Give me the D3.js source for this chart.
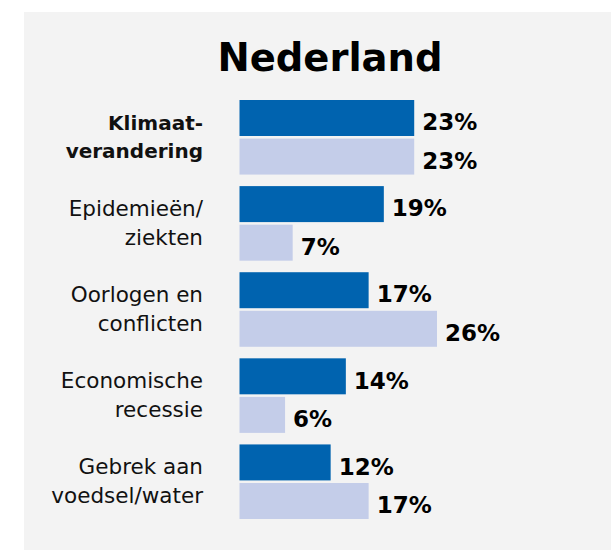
<!DOCTYPE html>
<meta charset="utf-8">
<script src="https://d3js.org/d3.v7.min.js"></script>
<style>
    body { margin: 0; background: #fff; }
    svg { display: block; }
</style>
<body>
</body>
<script>
    // Chart data
    var title = "Nederland";
    var categories = ["Klimaatverandering", "Epidemieën", "Oorlogen", "Economische recessie", "Gebrek aan voedsel/water"];
    // two-line labels shown left of each group
    var labelLines = [
        ["Klimaat-", "verandering"],
        ["Epidemieën/", "ziekten"],
        ["Oorlogen en", "conflicten"],
        ["Economische", "recessie"],
        ["Gebrek aan", "voedsel/water"]
    ];
    var highlighted = ["Klimaatverandering"];
    var seriesNames = ["first", "second"];
    var firstValues = [23, 19, 17, 14, 12];
    var secondValues = [23, 7, 26, 6, 17];
    var seriesColors = ["#0063af", "#c4cde9"];

    var width = 611, height = 550;

    var svg = d3.select("body")
        .append("svg")
            .attr("width", width)
            .attr("height", height);

    // grey panel behind the chart
    svg.append("rect")
        .attr("x", 24)
        .attr("y", 12)
        .attr("width", width - 24)
        .attr("height", height - 12)
        .attr("fill", "#f3f3f3");

    svg.append("text")
        .attr("x", 330)
        .attr("y", 71)
        .attr("text-anchor", "middle")
        .attr("font-family", "DejaVu Sans")
        .attr("font-weight", "bold")
        .attr("font-size", "38.5px")
        .attr("fill", "#000")
        .text(title);

    var rows = categories.map(function(c, i) {
        return {cat: c, lines: labelLines[i], values: [firstValues[i], secondValues[i]]};
    });

    var yGroup = d3.scaleBand()
        .domain(categories)
        .range([100, 519])
        .paddingInner(0.134);

    var ySeries = d3.scaleBand()
        .domain(seriesNames)
        .range([0, yGroup.bandwidth()])
        .paddingInner(0.067);

    var x = d3.scaleLinear()
        .domain([0, 26])
        .range([239.5, 437]);

    var color = d3.scaleOrdinal().domain(seriesNames).range(seriesColors);

    var groups = svg.selectAll(".group")
        .data(rows)
        .enter()
        .append("g")
            .attr("class", "group")
            .attr("transform", function(d) { return "translate(0," + yGroup(d.cat) + ")"; });

    // category labels, right aligned; the highlighted one is bold
    groups.append("text")
        .attr("text-anchor", "end")
        .attr("font-family", "DejaVu Sans")
        .attr("font-size", function(d) { return highlighted.indexOf(d.cat) >= 0 ? "20px" : "21.5px"; })
        .attr("font-weight", function(d) { return highlighted.indexOf(d.cat) >= 0 ? "bold" : "normal"; })
        .attr("fill", "#111")
        .selectAll("tspan")
        .data(function(d) { return d.lines; })
        .enter()
        .append("tspan")
            .attr("x", 203)
            .attr("y", function(d, i) { return ySeries.bandwidth() - 6 + i * 28.5; })
            .text(function(d) { return d; });

    var bars = groups.selectAll(".bar")
        .data(function(d) {
            return d.values.map(function(v, i) { return {series: seriesNames[i], value: v}; });
        })
        .enter();

    bars.append("rect")
        .attr("class", "bar")
        .attr("x", x(0))
        .attr("y", function(d) { return ySeries(d.series); })
        .attr("width", function(d) { return x(d.value) - x(0); })
        .attr("height", ySeries.bandwidth())
        .attr("fill", function(d) { return color(d.series); });

    bars.append("text")
        .attr("x", function(d) { return x(d.value) + 8; })
        .attr("y", function(d) { return ySeries(d.series) + ySeries.bandwidth() / 2 + 12.3; })
        .attr("font-family", "DejaVu Sans")
        .attr("font-weight", "bold")
        .attr("font-size", "23px")
        .attr("fill", "#000")
        .text(function(d) { return d.value + "%"; });
</script>
